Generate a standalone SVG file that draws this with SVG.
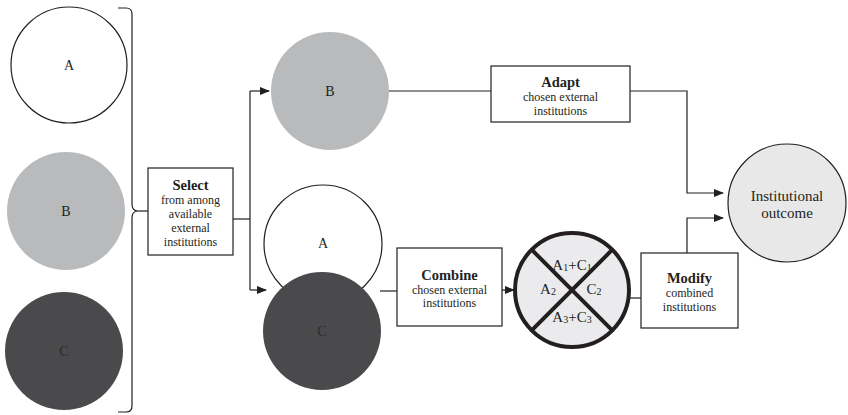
<svg xmlns="http://www.w3.org/2000/svg" width="848" height="415" viewBox="0 0 848 415">
<style>
text{font-family:"Liberation Serif","Times New Roman",serif;fill:#231f20;text-anchor:middle}
.lbl{font-size:14px}
.mx{font-size:15px}
.t{font-size:14.5px;font-weight:bold}
.s{font-size:12px}
.box{fill:#fff;stroke:#231f20;stroke-width:1.2}
.ln{fill:none;stroke:#231f20;stroke-width:1.2}
</style>
<defs>
<marker id="ar" markerWidth="10" markerHeight="8" refX="9" refY="4" orient="auto" markerUnits="userSpaceOnUse">
<path d="M0,0 L10,4 L0,8 Z" fill="#231f20"/>
</marker>
</defs>
<rect width="848" height="415" fill="#fff"/>
<g id="left-A"><circle cx="69" cy="65" r="58" fill="#fff" stroke="#231f20" stroke-width="1.2"/><text class="lbl" x="69" y="70">A</text></g>
<g id="left-B"><circle cx="66" cy="211" r="59" fill="#b9babc"/><text class="lbl" x="66" y="216">B</text></g>
<g id="left-C"><circle cx="64" cy="351" r="59" fill="#4a4a4c"/><text class="lbl" x="64" y="356" style="fill:#2a2a2a">C</text></g>
<g id="bracket"><path class="ln" d="M118,8 L126,8 Q132,8 132,14 L132,204 Q132,211 138,211 Q132,211 132,218 L132,406 Q132,412 126,412 L118,412"/></g>
<g id="select"><rect class="box" x="148" y="168" width="85" height="87"/>
<text class="t" x="190.5" y="190">Select</text>
<text class="s" x="190.5" y="204">from among</text>
<text class="s" x="190.5" y="218">available</text>
<text class="s" x="190.5" y="232">external</text>
<text class="s" x="190.5" y="246">institutions</text></g>
<g id="mid-B"><circle cx="330" cy="91" r="59" fill="#b9babc"/><text class="lbl" x="330" y="96">B</text></g>
<g id="mid-A"><circle cx="323" cy="244" r="59" fill="#fff" stroke="#231f20" stroke-width="1.2"/><text class="lbl" x="323" y="248">A</text></g>
<g id="mid-C"><circle cx="322" cy="331" r="59" fill="#4a4a4c"/><text class="lbl" x="322" y="336" style="fill:#2a2a2a">C</text></g>
<g id="adapt"><rect class="box" x="491" y="66" width="139" height="56"/>
<text class="t" x="560.5" y="87">Adapt</text>
<text class="s" x="560.5" y="101">chosen external</text>
<text class="s" x="560.5" y="115">institutions</text></g>
<g id="combine"><rect class="box" x="397" y="248" width="105" height="78"/>
<text class="t" x="449.5" y="280">Combine</text>
<text class="s" x="449.5" y="294">chosen external</text>
<text class="s" x="449.5" y="307">institutions</text></g>
<g id="mix"><circle cx="572" cy="290" r="57" fill="#ebebed" stroke="#231f20" stroke-width="4"/>
<line x1="531.7" y1="249.7" x2="612.3" y2="330.3" stroke="#231f20" stroke-width="4"/>
<line x1="612.3" y1="249.7" x2="531.7" y2="330.3" stroke="#231f20" stroke-width="4"/>
<text class="mx" x="572" y="270">A<tspan font-size="10" dy="1">1</tspan><tspan dy="-1">+C</tspan><tspan font-size="10" dy="1">1</tspan></text>
<text class="mx" x="548" y="294">A<tspan font-size="10" dy="1">2</tspan></text>
<text class="mx" x="594" y="294">C<tspan font-size="10" dy="1">2</tspan></text>
<text class="mx" x="572" y="322">A<tspan font-size="10" dy="1">3</tspan><tspan dy="-1">+C</tspan><tspan font-size="10" dy="1">3</tspan></text></g>
<g id="modify"><rect class="box" x="641" y="253" width="97" height="75"/>
<text class="t" x="689.5" y="283">Modify</text>
<text class="s" x="689.5" y="297">combined</text>
<text class="s" x="689.5" y="311">institutions</text></g>
<g id="outcome"><circle cx="787" cy="203" r="59" fill="#e8e8e9" stroke="#231f20" stroke-width="1.2"/>
<text x="787" y="201" style="font-size:15px">Institutional</text>
<text x="787" y="218" style="font-size:15px">outcome</text></g>
<g id="connectors">
<line class="ln" x1="138" y1="211" x2="148" y2="211"/>
<line class="ln" x1="233" y1="219" x2="250" y2="219"/>
<line class="ln" x1="250" y1="91" x2="250" y2="290"/>
<line class="ln" x1="250" y1="91" x2="269" y2="91" marker-end="url(#ar)"/>
<line class="ln" x1="250" y1="290" x2="266" y2="290" marker-end="url(#ar)"/>
<line class="ln" x1="389" y1="91" x2="491" y2="91"/>
<path class="ln" d="M630,91 L687,91 L687,193 L723,193" marker-end="url(#ar)"/>
<path class="ln" d="M687,253 L687,218 L723,218" marker-end="url(#ar)"/>
<line class="ln" x1="380" y1="291" x2="397" y2="291"/>
<line class="ln" x1="502" y1="290" x2="514" y2="290" marker-end="url(#ar)"/>
<line class="ln" x1="630" y1="298" x2="641" y2="298"/>
</g>
</svg>
